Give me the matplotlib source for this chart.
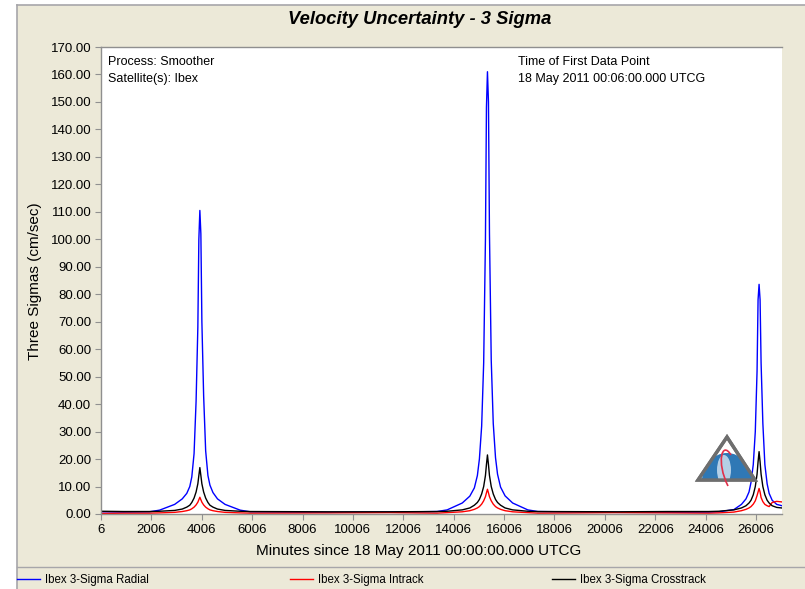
import matplotlib
matplotlib.use("Agg")
import matplotlib.pyplot as plt
from matplotlib.lines import Line2D
from matplotlib.patches import Rectangle, Polygon, Ellipse, PathPatch
from matplotlib.path import Path
import numpy as np

plt.rcParams['font.family'] = ['Liberation Sans', 'DejaVu Sans']

W, H = 805, 589
BEIGE = '#ECE9D8'
FRAME = '#A7A6AA'

# --- data: 3-sigma velocity uncertainty (cm/sec) vs minutes ---------------
# Offsets (minutes) from each pass centre where values were sampled
offsets = [-2000, -1600, -1000, -700, -520, -400, -320, -230, -150, -80, -40,
           0, 40, 80, 150, 230, 320, 400, 520, 700, 1000, 1600, 2000]
pass_centres = [3930, 15345, 26126]

radial_pass1 = [0.8, 1.4, 3.5, 5.5, 7.5, 10.0, 13.5, 22.0, 41.0, 68.0, 100.0,
                110.5, 102.0, 70.0, 43.0, 23.0, 14.0, 10.5, 7.8, 5.5, 3.5, 1.4, 0.8]
radial_pass2 = [0.9, 1.5, 4.0, 6.5, 9.5, 14.0, 20.0, 32.0, 55.0, 100.0, 148.0,
                161.0, 150.0, 102.0, 56.0, 33.0, 20.5, 14.5, 9.8, 6.6, 4.0, 1.5, 0.9]
radial_pass3 = [0.7, 0.8, 1.6, 3.5, 5.5, 8.0, 11.5, 18.0, 30.0, 52.0, 78.0,
                83.6, 78.0, 55.0, 33.0, 18.0, 11.0, 7.5, 5.0, 3.5, 2.8, None, None]

intrack_pass1 = [0.3, 0.4, 0.6, 0.9, 1.2, 1.5, 1.9, 2.5, 3.3, 4.3, 5.2,
                 6.1, 5.2, 4.3, 3.3, 2.5, 1.9, 1.5, 1.2, 0.9, 0.6, 0.4, 0.3]
intrack_pass2 = [0.3, 0.5, 0.8, 1.2, 1.7, 2.2, 2.7, 3.6, 4.8, 6.3, 7.7,
                 9.0, 7.7, 6.3, 4.8, 3.6, 2.7, 2.2, 1.7, 1.2, 0.8, 0.5, 0.3]
intrack_pass3 = [0.3, 0.4, 0.7, 1.2, 1.7, 2.2, 2.7, 3.6, 4.8, 6.7, 8.0,
                 9.3, 8.0, 6.0, 4.5, 3.5, 3.0, 2.7, 4.2, 4.6, 4.3, None, None]

crosstrack_pass1 = [0.9, 1.0, 1.3, 1.8, 2.5, 3.2, 4.2, 5.8, 8.0, 11.0, 14.0,
                    16.9, 14.0, 11.0, 8.0, 5.8, 4.2, 3.2, 2.5, 1.8, 1.3, 1.0, 0.9]
crosstrack_pass2 = [0.9, 1.0, 1.5, 2.2, 3.2, 4.2, 5.3, 7.3, 10.0, 14.0, 18.0,
                    21.5, 18.0, 14.0, 10.0, 7.3, 5.3, 4.2, 3.2, 2.2, 1.5, 1.0, 0.9]
crosstrack_pass3 = [0.9, 1.0, 1.5, 2.2, 3.0, 4.0, 5.0, 7.0, 10.0, 14.5, 19.0,
                    22.7, 19.0, 14.5, 10.0, 7.0, 5.0, 4.0, 3.0, 2.4, 2.1, None, None]

# Quiet arcs between passes
quiet_minutes = [6, 900, 9000, 11500, 20500, 22500]
radial_quiet = [0.8, 0.7, 0.6, 0.7, 0.6, 0.6]
intrack_quiet = [0.2, 0.3, 0.4, 0.5, 0.5, 0.4]
crosstrack_quiet = [1.0, 0.9, 0.8, 0.8, 0.8, 0.9]

series_labels = ['Ibex 3-Sigma Radial', 'Ibex 3-Sigma Intrack',
                 'Ibex 3-Sigma Crosstrack']
series_colors = ['#0000FF', '#FF0000', '#000000']

x_ticks = list(range(6, 26007, 2000))
y_ticks = list(range(0, 171, 10))


def assemble(quiet, passes):
    pts = list(zip(quiet_minutes, quiet))
    for centre, vals in zip(pass_centres, passes):
        pts += [(centre + off, v) for off, v in zip(offsets, vals) if v is not None]
    pts.sort()
    t, v = zip(*pts)
    return np.array(t, float), np.array(v, float)


radial = assemble(radial_quiet, [radial_pass1, radial_pass2, radial_pass3])
intrack = assemble(intrack_quiet, [intrack_pass1, intrack_pass2, intrack_pass3])
crosstrack = assemble(crosstrack_quiet,
                      [crosstrack_pass1, crosstrack_pass2, crosstrack_pass3])


def fx(px):
    return px / W


def fy(py):
    return 1 - py / H


fig = plt.figure(figsize=(W / 100, H / 100), dpi=100)
fig.patch.set_facecolor('white')

# report panel background and frame
fig.add_artist(Rectangle((fx(17), 0), 1 - fx(17), fy(5), transform=fig.transFigure,
                         facecolor=BEIGE, edgecolor='none', zorder=-10))
fig.add_artist(Line2D([fx(17), fx(17)], [0, fy(5)], color=FRAME, lw=1.2))
fig.add_artist(Line2D([fx(17), 1], [fy(5), fy(5)], color=FRAME, lw=1.2))
fig.add_artist(Line2D([fx(17), 1], [fy(567), fy(567)], color=FRAME, lw=1.0))

fig.text(fx(420), fy(20), 'Velocity Uncertainty - 3 Sigma', ha='center', va='center',
         fontsize=13.2, fontweight='bold', fontstyle='italic')

ax = fig.add_axes([fx(101), fy(514), (782 - 101) / W, (514 - 47) / H])
ax.set_facecolor('white')

lines = []
for (t, v), lab, col in zip([radial, intrack, crosstrack], series_labels, series_colors):
    ln, = ax.plot(t, v, color=col, lw=1.0, label=lab)
    lines.append(ln)

ax.set_xlim(6, 27036)
ax.set_ylim(0, 170)
ax.set_xticks(x_ticks)
ax.set_xticklabels([str(x) for x in x_ticks])
ax.set_yticks(y_ticks)
ax.set_yticklabels([f'{y:.2f}' for y in y_ticks])
ax.tick_params(axis='both', direction='out', length=4, color='#909090',
               labelsize=9.5, pad=3)
for side in ['left', 'bottom', 'top']:
    ax.spines[side].set_color('#8F8F8F')
    ax.spines[side].set_linewidth(1.0)
ax.spines['right'].set_visible(False)

ax.set_xlabel('Minutes since 18 May 2011 00:00:00.000 UTCG', fontsize=11)
ax.xaxis.set_label_coords((419 - 101) / 681, -(551 - 514) / 467)
ax.xaxis.label.set_va('center')
ax.set_ylabel('Three Sigmas (cm/sec)', fontsize=11)
ax.yaxis.set_label_coords(-(101 - 35) / 681, (514 - 281) / 467)
ax.yaxis.label.set_va('center')

ann = dict(transform=ax.transAxes, fontsize=9, va='center', ha='left')
ax.text(0.0103, 0.968, 'Process: Smoother', **ann)
ax.text(0.0103, 0.931, 'Satellite(s): Ibex', **ann)
ax.text(0.612, 0.968, 'Time of First Data Point', **ann)
ax.text(0.612, 0.931, '18 May 2011 00:06:00.000 UTCG', **ann)


# small product badge in the lower right of the plot
def axf(px, py):
    return ((px - 101) / 681, (514 - py) / 467)


tri = Polygon([axf(698, 480), axf(727, 437), axf(755, 480)], closed=True,
              transform=ax.transAxes, facecolor='white', edgecolor='#6E6E6E',
              lw=2.4, zorder=5)
ax.add_patch(tri)
dome = Ellipse(axf(727, 481), 50 / 681, 56 / 467, transform=ax.transAxes,
               facecolor='#2F78B5', edgecolor='none', zorder=6)
dome.set_clip_path(tri)
ax.add_patch(dome)
shine = Ellipse(axf(724, 470), 14 / 681, 30 / 467, transform=ax.transAxes,
                facecolor='#D6E6F3', edgecolor='none', alpha=0.8, zorder=6)
shine.set_clip_path(tri)
ax.add_patch(shine)
ax.add_patch(Polygon([axf(698, 480), axf(727, 437), axf(755, 480)], closed=True,
                     transform=ax.transAxes, facecolor='none', edgecolor='#6E6E6E',
                     lw=2.4, zorder=7))
arc = Path([axf(728, 486), axf(716, 462), axf(722, 440), axf(731, 455)],
           [Path.MOVETO, Path.CURVE4, Path.CURVE4, Path.CURVE4])
ax.add_patch(PathPatch(arc, transform=ax.transAxes, facecolor='none',
                       edgecolor='#E0304A', lw=1.2, zorder=8))

# legend strip along the bottom
for ln, x0 in zip(lines, [17, 290, 552]):
    fig.legend(handles=[ln], loc='center left',
               bbox_to_anchor=(fx(x0), fy(580)), frameon=False,
               fontsize=8.3, handlelength=2.0, handletextpad=0.45,
               borderaxespad=0, borderpad=0)

fig.savefig('out.png', dpi=100, facecolor=fig.get_facecolor())
